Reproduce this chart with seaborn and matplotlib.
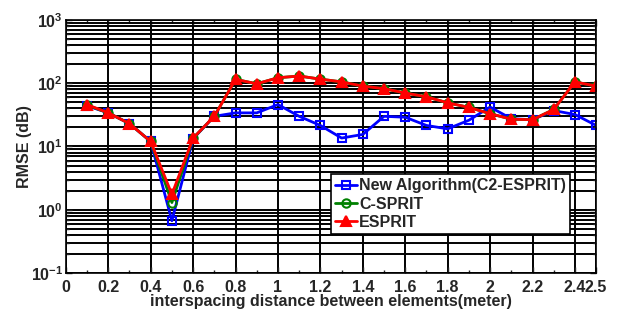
import numpy as np
import pandas as pd
import seaborn as sns
import matplotlib.pyplot as plt
from matplotlib.ticker import LogLocator, MultipleLocator, NullFormatter

# spacing between elements (meter)
spacing = [0.1, 0.2, 0.3, 0.4, 0.5, 0.6, 0.7, 0.8, 0.9, 1.0, 1.1, 1.2, 1.3,
           1.4, 1.5, 1.6, 1.7, 1.8, 1.9, 2.0, 2.1, 2.2, 2.3, 2.4, 2.5]

rmse_new = [44, 34, 23, 12, 0.67, 13.3, 30, 34, 34, 46, 30, 21.5, 13.6,
            15.5, 30, 29, 21.5, 19, 26, 42, 27.5, 26.5, 37, 32, 21.5]
rmse_csprit = [45, 34, 23, 12, 1.3, 13.5, 30, 115, 98, 122, 130, 116, 105,
               90, 82, 70, 61, 49, 41.5, 33, 27, 26.5, 38.5, 105, 90]
rmse_esprit = [46, 34, 23, 12, 1.75, 13.6, 30, 115, 98, 122, 130, 116, 105,
               90, 82, 70, 61, 49, 41.5, 33, 27, 26.5, 38.5, 105, 90]

xticks = [0, 0.2, 0.4, 0.6, 0.8, 1, 1.2, 1.4, 1.6, 1.8, 2, 2.2, 2.4, 2.5]
xtick_labels = ['0', '0.2', '0.4', '0.6', '0.8', '1', '1.2', '1.4', '1.6',
                '1.8', '2', '2.2', '2.4', '2.5']

sns.set_style('ticks')
plt.rcParams['font.family'] = ['Liberation Sans', 'DejaVu Sans']
plt.rcParams['font.weight'] = 'bold'
plt.rcParams['mathtext.fontset'] = 'custom'
plt.rcParams['mathtext.rm'] = 'Liberation Sans:bold'
plt.rcParams['mathtext.it'] = 'Liberation Sans:bold'
plt.rcParams['mathtext.bf'] = 'Liberation Sans:bold'

fs = 11.5

fig = plt.figure(figsize=(6.21, 3.12), dpi=100)
ax = fig.add_axes([0.106, 0.125, 0.854, 0.811])

# grid first so lines sit under the data
ax.set_yscale('log')
ax.set_ylim(0.1, 1000)
ax.set_xlim(0, 2.5)
ax.yaxis.set_major_locator(LogLocator(base=10))
ax.yaxis.set_minor_locator(LogLocator(base=10, subs=np.arange(2, 10)))
ax.yaxis.set_minor_formatter(NullFormatter())
ax.set_xticks(xticks)
ax.set_xticklabels(xtick_labels)
ax.xaxis.set_minor_locator(MultipleLocator(0.1))
ax.grid(which='major', axis='both', color='black', linewidth=1.4)
ax.grid(which='minor', axis='y', color='black', linewidth=1.4)
ax.set_axisbelow(True)

series = [
    ('New Algorithm(C2-ESPRIT)', rmse_new, 'blue', 's', 'none', 6),
    ('C-SPRIT', rmse_csprit, 'green', 'o', 'none', 6),
    ('ESPRIT', rmse_esprit, 'red', '^', 'red', 7.5),
]
for name, vals, col, mk, face, ms in series:
    df = pd.DataFrame({'x': spacing, 'y': vals})
    sns.lineplot(data=df, x='x', y='y', ax=ax, color=col, marker=mk,
                 markerfacecolor=face, markeredgecolor=col, markersize=ms,
                 markeredgewidth=1.5, linewidth=2, label=name)

ax.tick_params(axis='both', which='both', direction='in', top=True, right=True,
               labelsize=fs, width=1)
ax.tick_params(which='major', length=4)
ax.tick_params(which='minor', length=2)
ax.tick_params(axis='x', pad=5)
ax.tick_params(axis='y', pad=2)
for sp in ax.spines.values():
    sp.set_linewidth(1.2)
    sp.set_color('black')

ax.set_xlabel('interspacing distance between elements(meter)', fontsize=fs,
              fontweight='bold', labelpad=-1)
ax.set_ylabel('RMSE (dB)', fontsize=fs, fontweight='bold', labelpad=-1)

leg = ax.legend(loc='upper left', bbox_to_anchor=(0.5, 0.39), fontsize=fs,
                frameon=True, fancybox=False, edgecolor='black',
                handlelength=1.4, handletextpad=0.1, borderpad=0.25,
                labelspacing=0.2, borderaxespad=0)
leg.get_frame().set_linewidth(1.2)
leg.get_frame().set_alpha(1)
for t in leg.get_texts():
    t.set_fontweight('bold')

fig.savefig('out.png', dpi=100)
